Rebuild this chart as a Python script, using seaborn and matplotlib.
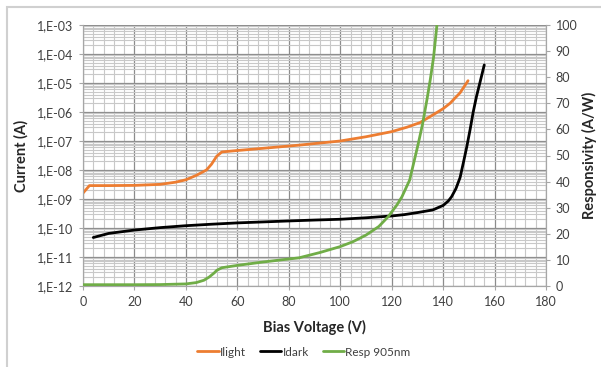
import numpy as np
import pandas as pd
import matplotlib
matplotlib.use('Agg')
import matplotlib.pyplot as plt
import seaborn as sns
from matplotlib.ticker import FuncFormatter, LogLocator, MultipleLocator, NullFormatter
from matplotlib.patches import Rectangle
from matplotlib.lines import Line2D

# Ilight (A) vs bias voltage
light_v = [0, 2.5, 10, 20, 30, 36, 40, 44, 48, 50, 52, 54, 60, 70, 84, 100, 110, 120, 126, 131,
           136, 140, 142.7, 146.6, 149.7]
light_i = [1.6e-9, 2.9e-9, 2.9e-9, 2.95e-9, 3.2e-9, 3.8e-9, 4.6e-9, 6.5e-9, 1.0e-8, 1.6e-8,
           3.0e-8, 4.2e-8, 4.7e-8, 5.6e-8, 7.2e-8, 1.0e-7, 1.4e-7, 2.1e-7, 3.0e-7, 4.3e-7,
           7.9e-7, 1.3e-6, 2.0e-6, 4.6e-6, 1.2e-5]

# Idark (A) vs bias voltage
dark_v = [4, 10, 20, 30, 40, 50, 60, 70, 80, 90, 100, 110, 120, 125, 130, 136, 140, 142, 143.3,
          145, 146.6, 148, 149.2, 150.5, 151.7, 153, 154.5, 156]
dark_i = [4.7e-11, 6.5e-11, 8.5e-11, 1.03e-10, 1.2e-10, 1.35e-10, 1.5e-10, 1.62e-10, 1.75e-10,
          1.88e-10, 2.0e-10, 2.25e-10, 2.6e-10, 2.9e-10, 3.4e-10, 4.2e-10, 6.0e-10, 8.5e-10,
          1.2e-9, 2.3e-9, 5.5e-9, 2.0e-8, 6.3e-8, 2.5e-7, 1.0e-6, 3.5e-6, 1.2e-5, 4.2e-5]

# Responsivity at 905 nm (A/W)
resp_v = [0, 10, 20, 30, 40, 44, 47, 49, 51, 52, 54, 56, 60, 70, 84, 92, 100, 105, 110, 115,
          118.6, 122, 124, 127, 130.4, 132, 133.7, 135, 136.3, 137.6, 139]
resp_r = [0.5, 0.5, 0.5, 0.55, 0.8, 1.3, 2.2, 3.4, 5.0, 6.0, 7.0, 7.3, 7.9, 9.2, 10.8, 12.8,
          15.1, 17.0, 19.5, 22.8, 26.5, 31.0, 34.2, 40.6, 54.8, 62.0, 71.3, 79.0, 87.7, 100, 112]

ORANGE = '#ED7D31'
GREEN = '#70AD47'

sns.set_style('white')
plt.rcParams['font.family'] = ['Lato', 'DejaVu Sans']

fig = plt.figure(figsize=(6.01, 3.67), dpi=100)
ax = fig.add_axes([83 / 601, 1 - 286 / 367, (546 - 83) / 601, (286 - 25) / 367])
ax2 = ax.twinx()

df_light = pd.DataFrame({'V': light_v, 'I': light_i})
df_dark = pd.DataFrame({'V': dark_v, 'I': dark_i})
df_resp = pd.DataFrame({'V': resp_v, 'R': resp_r})

ax.set_yscale('log')
sns.lineplot(data=df_light, x='V', y='I', ax=ax, color=ORANGE, lw=2, zorder=5)
sns.lineplot(data=df_dark, x='V', y='I', ax=ax, color='black', lw=2, zorder=5)
sns.lineplot(data=df_resp, x='V', y='R', ax=ax2, color=GREEN, lw=2, zorder=5)

ax.set_xlim(0, 180)
ax.set_ylim(1e-12, 1e-3)
ax2.set_ylim(0, 100)

ax.xaxis.set_major_locator(MultipleLocator(20))
ax.xaxis.set_minor_locator(MultipleLocator(4))
ax.yaxis.set_major_locator(LogLocator(base=10, numticks=20))
ax.yaxis.set_minor_locator(LogLocator(base=10, subs=np.arange(2, 10), numticks=20))
ax.yaxis.set_minor_formatter(NullFormatter())
ax.yaxis.set_major_formatter(FuncFormatter(lambda v, p: '1,E-%02d' % int(round(-np.log10(v)))))
ax2.yaxis.set_major_locator(MultipleLocator(10))

ax.grid(which='major', color='#8c8c8c', lw=0.9)
ax.grid(which='minor', color='#c8c8c8', lw=0.8)
ax.set_axisbelow(True)
ax2.grid(False)

for a in (ax, ax2):
    for s in a.spines.values():
        s.set_color('#a6a6a6')
        s.set_linewidth(0.8)
    a.spines['top'].set_visible(False)

ax.tick_params(axis='both', which='major', labelsize=9, length=3, color='#a6a6a6',
               pad=4, labelcolor='#404040', bottom=True, left=True)
ax.tick_params(which='minor', length=0)
ax2.tick_params(axis='y', which='major', labelsize=9, length=3, right=True, color='#a6a6a6',
                labelcolor='#404040', pad=4)

ax.set_xlabel('Bias Voltage (V)', fontsize=10.5, fontweight='bold', labelpad=9)
ax.set_ylabel('Current (A)', fontsize=10.5, fontweight='bold', labelpad=6)
ax2.set_ylabel('Responsivity (A/W)', fontsize=10.5, fontweight='bold', labelpad=3)

handles = [Line2D([], [], color=ORANGE, lw=2), Line2D([], [], color='black', lw=2),
           Line2D([], [], color=GREEN, lw=2)]
fig.legend(handles, ['Ilight', 'Idark', 'Resp 905nm'], loc='center',
           bbox_to_anchor=(304 / 601, 1 - 352 / 367), ncol=3, frameon=False, fontsize=8.5,
           handlelength=1.8, handletextpad=0.1, columnspacing=1.2, labelcolor='#404040')

# outer chart border (left and top visible)
fig.patches.append(Rectangle((6.5 / 601, -0.1), 2, 1 - 6.5 / 367 + 0.1, transform=fig.transFigure,
                             fill=False, edgecolor='#d0d0d0', lw=1.5, zorder=0))

fig.savefig('out.png', dpi=100)
